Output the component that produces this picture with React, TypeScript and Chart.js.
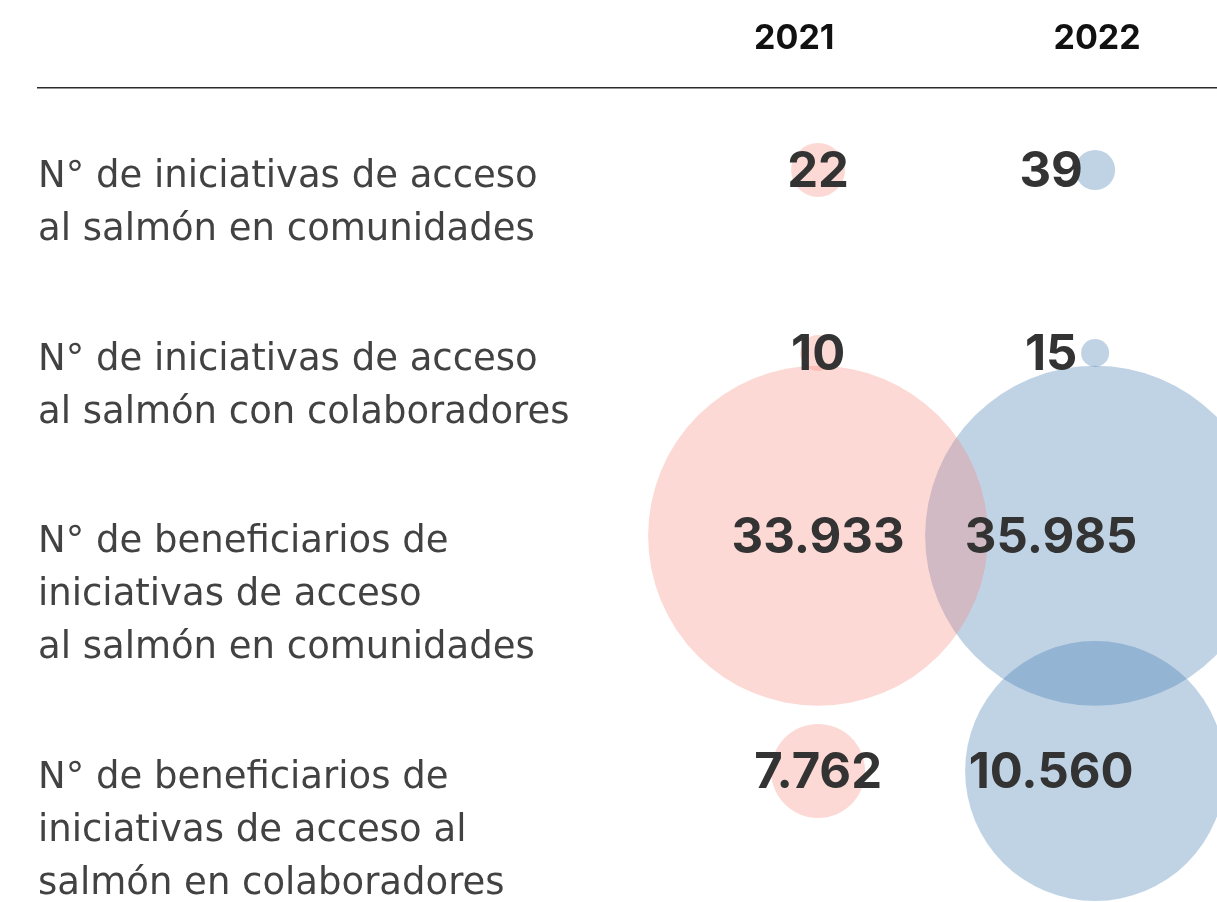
import React, { useEffect, useRef } from 'react';
import { Chart, registerables } from 'chart.js';

Chart.register(...registerables);

// ---- data ----
const years = ['2021', '2022'];
const rowLabels: string[][] = [
  ['N° de iniciativas de acceso', 'al salmón en comunidades'],
  ['N° de iniciativas de acceso', 'al salmón con colaboradores'],
  ['N° de beneficiarios de', 'iniciativas de acceso', 'al salmón en comunidades'],
  ['N° de beneficiarios de', 'iniciativas de acceso al', 'salmón en colaboradores'],
];
const values2021 = [22, 10, 33933, 7762];
const values2022 = [39, 15, 35985, 10560];
// bubble sizes (not proportional to the values)
const bubble2021 = [27, 18, 170, 47];
const bubble2022 = [20, 14, 170, 130];

// row positions derived from the number of label lines plus a gap (in "lines")
const ROW_GAP = 1.5;
const rowPositions: number[] = rowLabels.reduce<number[]>((acc, _lines, i) => {
  if (i === 0) return [0];
  return [...acc, acc[i - 1] + rowLabels[i - 1].length + ROW_GAP];
}, []);

// header tick placement (in x units) — the 2021 heading sits slightly left of its column
const headerTickValues = [-0.086, 1.007];

const fmt = (v: number) => String(v).replace(/\B(?=(\d{3})+(?!\d))/g, '.');

const LABEL_FONT = '37px "DejaVu Sans"';
const VALUE_FONT = '700 49px Inter';
const valueOffsets = [0, -44];
const allValues = [values2021, values2022];

const textPlugin = {
  id: 'textPlugin',
  afterDatasetsDraw(chart: any) {
    const { ctx, chartArea } = chart;
    const yScale = chart.scales.y;
    ctx.save();
    ctx.font = LABEL_FONT;
    ctx.fillStyle = '#424242';
    ctx.textAlign = 'left';
    ctx.textBaseline = 'middle';
    rowLabels.forEach((lines, i) => {
      const y = yScale.getPixelForValue(rowPositions[i]);
      lines.forEach((line, k) => {
        ctx.fillText(line, chartArea.left, y + 7 + k * 53);
      });
    });
    ctx.font = VALUE_FONT;
    ctx.fillStyle = '#333333';
    ctx.textAlign = 'center';
    chart.data.datasets.forEach((_ds: any, di: number) => {
      const meta = chart.getDatasetMeta(di);
      meta.data.forEach((el: any, i: number) => {
        ctx.fillText(fmt(allValues[di][i]), el.x + valueOffsets[di], el.y + 2);
      });
    });
    ctx.restore();
  },
};

export default function App() {
  const ref = useRef<HTMLCanvasElement>(null);
  useEffect(() => {
    if (!ref.current) return;
    const chart = new Chart(ref.current, {
      type: 'bubble',
      data: {
        datasets: [
          {
            label: years[0],
            data: values2021.map((_, i) => ({ x: 0, y: rowPositions[i], r: bubble2021[i] })),
            backgroundColor: 'rgba(248, 128, 115, 0.3)',
            borderWidth: 0,
            hoverRadius: 0,
            clip: false as any,
          },
          {
            label: years[1],
            data: values2022.map((_, i) => ({ x: 1, y: rowPositions[i], r: bubble2022[i] })),
            backgroundColor: 'rgba(38, 103, 165, 0.29)',
            borderWidth: 0,
            hoverRadius: 0,
            clip: false as any,
          },
        ],
      },
      options: {
        responsive: false,
        animation: false,
        events: [],
        layout: { autoPadding: false, padding: { left: 38, right: 0, top: 0, bottom: 0 } },
        plugins: { legend: { display: false }, tooltip: { enabled: false } },
        scales: {
          x: {
            type: 'linear',
            position: 'top',
            min: -2.816,
            max: 1.44,
            afterBuildTicks: (scale: any) => {
              scale.ticks = headerTickValues.map((v) => ({ value: v }));
            },
            afterFit: (scale: any) => {
              scale.height = 88;
            },
            ticks: {
              autoSkip: false,
              maxRotation: 0,
              padding: 29,
              color: '#111111',
              font: { family: 'Inter', size: 34, weight: 'bold' },
              callback: (v: any) => years[Math.round(Number(v))] ?? '',
            },
            grid: { display: false, drawTicks: false },
            border: { display: true, color: '#2b2b2b', width: 1.5 },
          },
          y: {
            type: 'linear',
            display: false,
            reverse: true,
            min: rowPositions[0] - 1.569,
            max: rowPositions[rowPositions.length - 1] + 2.507,
          },
        },
      },
      plugins: [textPlugin],
    });
    return () => chart.destroy();
  }, []);
  return (
    <div style={{ position: 'fixed', left: 0, top: 0, width: 1217, height: 902, background: '#fff' }}>
      <canvas ref={ref} width={1217} height={902} style={{ display: 'block' }} />
    </div>
  );
}
